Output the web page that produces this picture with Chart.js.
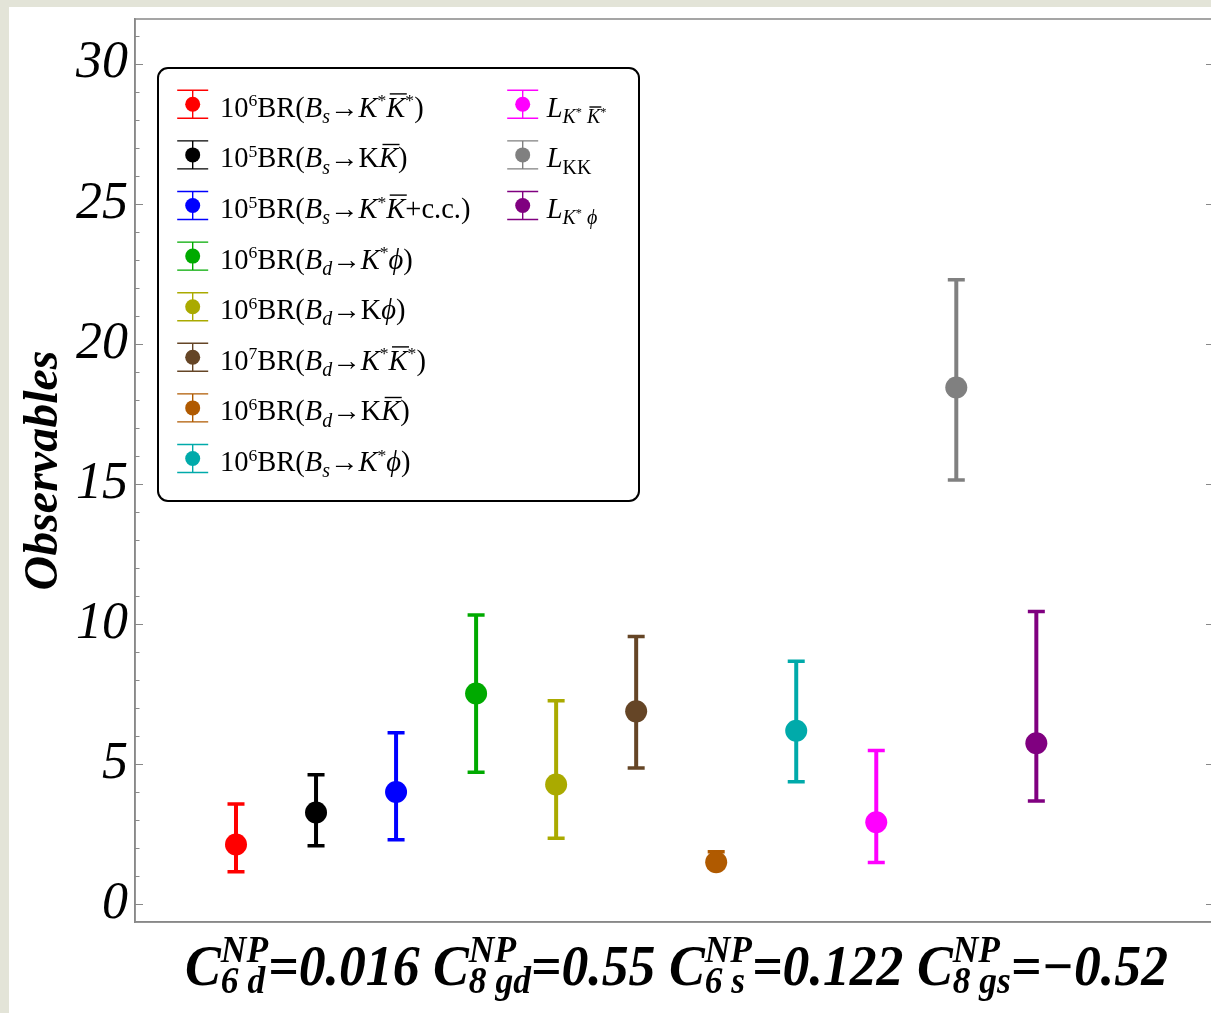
<!DOCTYPE html>
<html>
<head>
<meta charset="utf-8">
<script src="https://cdn.jsdelivr.net/npm/chart.js@4.4.0/dist/chart.umd.min.js"></script>
<style>
  html, body { margin: 0; padding: 0; background: #e3e4d8; overflow: hidden; }
  #panel { position: absolute; left: 9px; top: 7px; width: 1215px; height: 1010px; background: #fff; }
  canvas { display: block; }
</style>
</head>
<body>
<div id="panel"><canvas id="obs" width="1210" height="1006"></canvas></div>
<script>
// one point per observable, x = slot number
var positions = [1, 2, 3, 4, 5, 6, 7, 8, 9, 10, 11];
var centers = [2.13, 3.27, 4.00, 7.52, 4.27, 6.88, 1.49, 6.19, 2.92, 18.44, 5.74];
var upper = [3.57, 4.62, 6.12, 10.32, 7.26, 9.55, 1.87, 8.67, 5.48, 22.29, 10.45];
var lower = [1.15, 2.08, 2.30, 4.71, 2.35, 4.86, 1.30, 4.37, 1.48, 15.14, 3.68];
var colors = ["#ff0000", "#000000", "#0000ff", "#00aa00", "#aaaa00", "#654526",
              "#b05a00", "#00aaaa", "#ff00ff", "#808080", "#800080"];
var names = ["10^6 BR(Bs→K*K̄*)", "10^5 BR(Bs→KK̄)", "10^5 BR(Bs→K*K̄+c.c.)",
             "10^6 BR(Bd→K*ϕ)", "10^6 BR(Bd→Kϕ)", "10^7 BR(Bd→K*K̄*)",
             "10^6 BR(Bd→KK̄)", "10^6 BR(Bs→K*ϕ)", "L_K*K̄*", "L_KK", "L_K*ϕ"];
var yTicks = [0, 5, 10, 15, 20, 25, 30];

// formatted legend labels: [text, flags]  i=italic ^=sup _=sub o=overline
var richNames = [
    [["10"], ["6", "^"], ["BR("], ["B", "i"], ["s", "_i"], ["→"], ["K", "i"], ["*", "^"], ["K", "io"], ["*", "^"], [")"]],
    [["10"], ["5", "^"], ["BR("], ["B", "i"], ["s", "_i"], ["→"], ["K"], ["K", "io"], [")"]],
    [["10"], ["5", "^"], ["BR("], ["B", "i"], ["s", "_i"], ["→"], ["K", "i"], ["*", "^"], ["K", "io"], ["+c.c.)"]],
    [["10"], ["6", "^"], ["BR("], ["B", "i"], ["d", "_i"], ["→"], ["K", "i"], ["*", "^"], ["ϕ", "i"], [")"]],
    [["10"], ["6", "^"], ["BR("], ["B", "i"], ["d", "_i"], ["→"], ["K"], ["ϕ", "i"], [")"]],
    [["10"], ["7", "^"], ["BR("], ["B", "i"], ["d", "_i"], ["→"], ["K", "i"], ["*", "^"], ["K", "io"], ["*", "^"], [")"]],
    [["10"], ["6", "^"], ["BR("], ["B", "i"], ["d", "_i"], ["→"], ["K"], ["K", "io"], [")"]],
    [["10"], ["6", "^"], ["BR("], ["B", "i"], ["s", "_i"], ["→"], ["K", "i"], ["*", "^"], ["ϕ", "i"], [")"]],
    [["L", "i"], ["K", "_i"], ["*", "_^"], [" ", "_"], ["K", "_io"], ["*", "_^"]],
    [["L", "i"], ["KK", "_"]],
    [["L", "i"], ["K", "_i"], ["*", "_^"], [" ", "_"], ["ϕ", "_i"]]
];
var xLabel = [["C", "i"], ["NP|6 d", "si"], ["=0.016 ", "i"], ["C", "i"], ["NP|8 gd", "si"], ["=0.55 ", "i"],
              ["C", "i"], ["NP|6 s", "si"], ["=0.122 ", "i"], ["C", "i"], ["NP|8 gs", "si"], ["=\u22120.52", "i"]];

function drawRich(ctx, segs, x, y, size, bold, draw) {
    var cx = x;
    segs.forEach(function (s) {
        var t = s[0], f = s[1] || "";
        var it = f.indexOf("i") >= 0 ? "italic " : "";
        var bd = bold ? "bold " : "";
        if (f.indexOf("s") >= 0) {
            // stacked superscript | subscript
            var parts = t.split("|");
            var fs = size * 0.66;
            ctx.font = it + bd + fs + "px 'Liberation Serif'";
            var w1 = ctx.measureText(parts[0]).width;
            var w2 = ctx.measureText(parts[1]).width;
            if (draw) {
                ctx.fillText(parts[0], cx, y - size * 0.41);
                ctx.fillText(parts[1], cx, y + size * 0.15);
            }
            cx += Math.max(w1, w2);
            return;
        }
        var scale = 1, dy = 0;
        if (f.indexOf("_") >= 0) { scale *= 0.7; dy += size * 0.22; }
        if (f.indexOf("^") >= 0) { dy -= size * 0.36 * scale; scale *= 0.62; }
        var fsz = size * scale;
        ctx.font = it + bd + fsz + "px 'Liberation Serif'";
        var w = ctx.measureText(t).width;
        if (draw) {
            ctx.fillText(t, cx, y + dy);
            if (f.indexOf("o") >= 0) {
                ctx.beginPath();
                ctx.lineWidth = 1.4;
                ctx.moveTo(cx + fsz * 0.12, y + dy - fsz * 0.8);
                ctx.lineTo(cx + w + fsz * 0.05, y + dy - fsz * 0.8);
                ctx.stroke();
            }
        }
        cx += w;
    });
    return cx - x;
}

var frameAndTicks = {
    id: "frameAndTicks",
    afterDraw: function (chart) {
        var ctx = chart.ctx, a = chart.chartArea, y = chart.scales.y;
        ctx.save();
        ctx.strokeStyle = "#888888";
        ctx.lineWidth = 1.5;
        ctx.strokeRect(a.left, a.top, a.right - a.left, a.bottom - a.top);
        ctx.lineWidth = 1;
        for (var v = 0; v <= 31; v++) {
            var py = Math.round(y.getPixelForValue(v)) + 0.5;
            var len = v % 5 === 0 ? 8 : 4.5;
            ctx.beginPath();
            ctx.moveTo(a.left, py);
            ctx.lineTo(a.left + len, py);
            if (v % 5 === 0) {
                ctx.moveTo(a.right, py);
                ctx.lineTo(a.right - 6, py);
            }
            ctx.stroke();
        }
        ctx.restore();
    }
};

var errorBars = {
    id: "errorBars",
    beforeDatasetsDraw: function (chart) {
        var ctx = chart.ctx, xs = chart.scales.x, ys = chart.scales.y;
        ctx.save();
        ctx.lineCap = "butt";
        positions.forEach(function (p, i) {
            var px = xs.getPixelForValue(p);
            var top = ys.getPixelForValue(upper[i]);
            var bot = ys.getPixelForValue(lower[i]);
            ctx.strokeStyle = colors[i];
            ctx.lineWidth = 4;
            ctx.beginPath();
            ctx.moveTo(px, top);
            ctx.lineTo(px, bot);
            ctx.stroke();
            ctx.lineWidth = 3.5;
            ctx.beginPath();
            ctx.moveTo(px - 8.5, top);
            ctx.lineTo(px + 8.5, top);
            ctx.moveTo(px - 8.5, bot);
            ctx.lineTo(px + 8.5, bot);
            ctx.stroke();
        });
        ctx.restore();
    }
};

var richLegend = {
    id: "richLegend",
    afterDraw: function (chart) {
        var ctx = chart.ctx;
        var bx = 149, by = 61, bw = 481, bh = 433, r = 10;
        ctx.save();
        ctx.fillStyle = "#ffffff";
        ctx.strokeStyle = "#000000";
        ctx.lineWidth = 2;
        ctx.beginPath();
        ctx.roundRect(bx, by, bw, bh, r);
        ctx.fill();
        ctx.stroke();
        for (var i = 0; i < richNames.length; i++) {
            var col = i < 8 ? 0 : 1;
            var row = i < 8 ? i : i - 8;
            var ix = col === 0 ? 183.7 : 513.7;
            var tx = col === 0 ? 211 : 537.7;
            var cy = 97.3 + 50.6 * row;
            ctx.strokeStyle = colors[i];
            ctx.fillStyle = colors[i];
            ctx.lineWidth = 1.4;
            ctx.beginPath();
            ctx.moveTo(ix - 15.5, cy - 14); ctx.lineTo(ix + 15.5, cy - 14);
            ctx.moveTo(ix - 15.5, cy + 14); ctx.lineTo(ix + 15.5, cy + 14);
            ctx.moveTo(ix, cy - 14); ctx.lineTo(ix, cy + 14);
            ctx.stroke();
            ctx.beginPath();
            ctx.arc(ix, cy, 7.5, 0, Math.PI * 2);
            ctx.fill();
            ctx.fillStyle = "#000000";
            ctx.strokeStyle = "#000000";
            ctx.textBaseline = "alphabetic";
            drawRich(ctx, richNames[i], tx, cy + 12.4, 28.5, false, true);
        }
        ctx.restore();
    }
};

var bottomLabel = {
    id: "bottomLabel",
    afterDraw: function (chart) {
        var ctx = chart.ctx;
        ctx.save();
        ctx.fillStyle = "#000000";
        ctx.textBaseline = "alphabetic";
        var size = 56;
        var w = drawRich(ctx, xLabel, 0, 0, size, true, false);
        var target = 983;
        var sx = target / w;
        ctx.translate(176, chart.chartArea.bottom + 63);
        ctx.scale(sx, 1);
        drawRich(ctx, xLabel, 0, 0, size, true, true);
        ctx.restore();
    }
};

new Chart(document.getElementById("obs"), {
    type: "scatter",
    data: {
        datasets: names.map(function (n, i) {
            return {
                label: n,
                data: [{ x: positions[i], y: centers[i] }],
                pointRadius: 11,
                pointHoverRadius: 11,
                pointBorderWidth: 0,
                pointBackgroundColor: colors[i],
                backgroundColor: colors[i],
                borderColor: colors[i]
            };
        })
    },
    options: {
        responsive: false,
        animation: false,
        devicePixelRatio: 1,
        layout: { autoPadding: false, padding: { top: 12, right: 7, left: 0, bottom: 0 } },
        plugins: {
            legend: { display: false },
            tooltip: { enabled: false }
        },
        scales: {
            x: {
                type: "linear",
                min: -0.262,
                max: 13.195,
                grid: { display: false, drawTicks: false },
                ticks: { display: false },
                border: { display: true, color: "#888888", width: 1.5 },
                afterFit: function (s) {
                    s.height = 91;
                    s.paddingLeft = 0;
                    s.paddingRight = 0;
                }
            },
            y: {
                min: -0.64,
                max: 31.6,
                afterBuildTicks: function (s) {
                    s.ticks = yTicks.map(function (v) { return { value: v }; });
                },
                grid: { display: false, drawTicks: false },
                border: { display: true, color: "#888888", width: 1.5 },
                ticks: {
                    color: "#000000",
                    padding: 7,
                    font: { family: "'Liberation Serif'", style: "italic", size: 52 }
                },
                title: {
                    display: true,
                    text: "Observables",
                    color: "#000000",
                    padding: { top: 7, bottom: 0 },
                    font: { family: "'Liberation Serif'", style: "italic", weight: "bold", size: 48 }
                },
                afterFit: function (s) {
                    s.width = 126;
                    s.paddingTop = 0;
                    s.paddingBottom = 0;
                }
            }
        }
    },
    plugins: [frameAndTicks, errorBars, richLegend, bottomLabel]
});
</script>
</body>
</html>
